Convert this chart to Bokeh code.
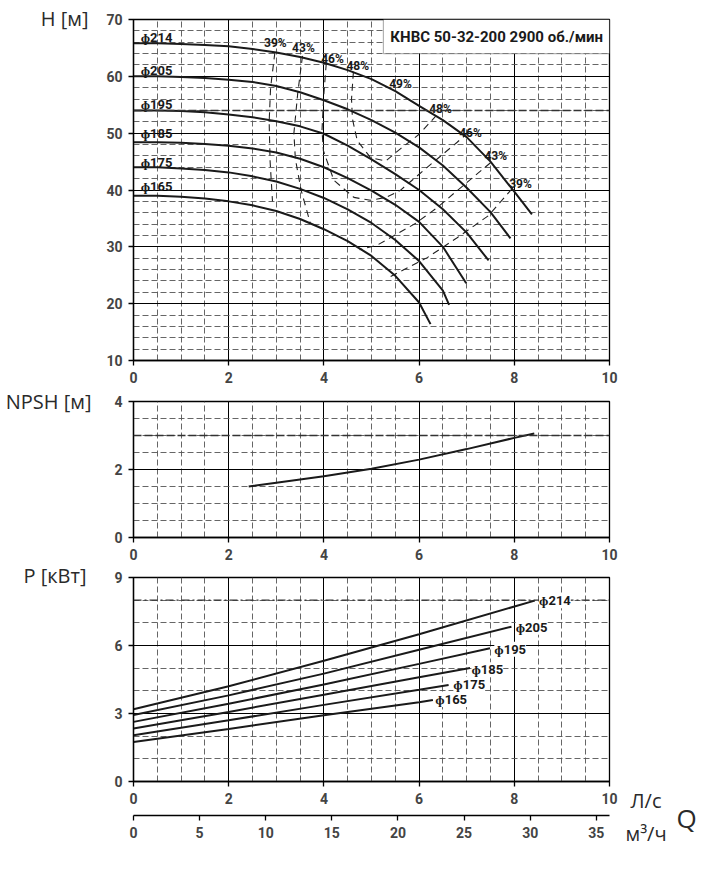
from bokeh.plotting import figure
from bokeh.layouts import column, row
from bokeh.models import (Range1d, LinearAxis, SingleIntervalTicker, Label,
                          BoxAnnotation, Span)
from bokeh.core.properties import value
from bokeh.embed import file_html
from bokeh.resources import INLINE

NUM_FONT = "Roboto"
UNIT_FONT = "Open Sans"

# ---- H-Q curves (Q in l/s, H in m) ----
diam_labels = ["ɸ214", "ɸ205", "ɸ195", "ɸ185", "ɸ175", "ɸ165"]
q_214 = [0, 0.5, 1, 1.5, 2, 2.5, 3, 3.5, 4, 4.5, 5, 5.5, 6, 6.5, 7, 7.5, 8, 8.37]
h_214 = [65.8, 65.8, 65.7, 65.5, 65.3, 64.8, 64.2, 63.4, 62.4, 61.1, 59.5, 57.4, 54.8, 52.3, 49.3, 45.0, 39.7, 35.7]
q_205 = [0, 0.5, 1, 1.5, 2, 2.5, 3, 3.5, 4, 4.5, 5, 5.5, 6, 6.5, 7, 7.5, 7.92]
h_205 = [60.0, 60.0, 59.9, 59.7, 59.4, 59.0, 58.3, 57.2, 55.8, 54.2, 52.3, 50.1, 47.5, 44.3, 40.4, 36.1, 31.5]
q_195 = [0, 0.5, 1, 1.5, 2, 2.5, 3, 3.5, 4, 4.5, 5, 5.5, 6, 6.5, 7, 7.46]
h_195 = [54.0, 54.0, 53.9, 53.7, 53.3, 52.8, 52.1, 51.2, 49.9, 47.8, 45.4, 42.8, 40.0, 36.6, 32.5, 27.6]
q_185 = [0, 0.5, 1, 1.5, 2, 2.5, 3, 3.5, 4, 4.5, 5, 5.5, 6, 6.5, 6.99]
h_185 = [48.4, 48.4, 48.3, 48.1, 47.8, 47.3, 46.6, 45.5, 44.0, 42.1, 39.9, 37.4, 34.4, 30.0, 23.6]
q_175 = [0, 0.5, 1, 1.5, 2, 2.5, 3, 3.5, 4, 4.5, 5, 5.5, 6, 6.5, 6.63]
h_175 = [44.0, 44.0, 43.8, 43.5, 43.1, 42.4, 41.5, 40.2, 38.6, 36.6, 34.2, 31.2, 27.5, 22.3, 19.8]
q_165 = [0, 0.5, 1, 1.5, 2, 2.5, 3, 3.5, 4, 4.5, 5, 5.5, 6, 6.24]
h_165 = [39.0, 39.0, 38.8, 38.5, 38.0, 37.3, 36.3, 34.9, 33.1, 31.0, 28.4, 24.9, 20.2, 16.4]
diam_label_h = [66.8, 61.1, 55.0, 49.9, 44.8, 40.7]

# ---- efficiency iso-lines ----
eff_39l_q = [2.97, 2.88, 2.85, 2.87, 2.92]
eff_39l_h = [64.2, 58.0, 52.0, 45.0, 38.0]
eff_43l_q = [3.55, 3.45, 3.37, 3.40, 3.52, 3.72]
eff_43l_h = [63.6, 57.0, 50.0, 45.5, 40.0, 34.0]
eff_46_q = [4.05, 4.0, 3.96, 3.99, 4.21, 4.63, 4.98, 5.3, 5.6, 6.2, 6.8, 6.95]
eff_46_h = [62.3, 57.0, 50.5, 46.9, 41.7, 38.7, 38.2, 38.7, 39.9, 44.2, 48.4, 49.5]
eff_48_q = [4.62, 4.58, 4.60, 4.70, 4.98, 5.3, 5.6, 6.0, 6.35]
eff_48_h = [60.8, 56.0, 52.5, 48.7, 45.7, 45.1, 47.2, 49.8, 53.0]
eff_43r_q = [7.5, 6.73, 6.38, 5.92, 5.12, 4.75]
eff_43r_h = [44.8, 39.4, 36.9, 34.1, 30.3, 29.5]
eff_39r_q = [7.95, 7.46, 6.8, 6.17, 5.36]
eff_39r_h = [40.2, 35.5, 31.6, 28.1, 24.6]

eff_text = ["39%", "43%", "46%", "48%", "49%", "48%", "46%", "43%", "39%"]
eff_text_q = [2.98, 3.57, 4.18, 4.71, 5.61, 6.45, 7.08, 7.61, 8.13]
eff_text_h = [65.8, 64.9, 63.1, 61.9, 58.7, 54.3, 50.1, 45.9, 41.1]

# ---- NPSH ----
npsh_q = [2.42, 3, 4, 5, 6, 7, 8, 8.42]
npsh_m = [1.50, 1.61, 1.80, 2.02, 2.29, 2.60, 2.93, 3.06]

# ---- power (kW) ----
pq_214 = [0, 2, 4, 6, 8.43]
p_214 = [3.19, 4.20, 5.33, 6.50, 7.98]
pq_205 = [0, 2, 4, 6, 7.94]
p_205 = [2.93, 3.80, 4.76, 5.81, 6.83]
pq_195 = [0, 2, 4, 6, 7.49]
p_195 = [2.63, 3.43, 4.28, 5.19, 5.88]
pq_185 = [0, 2, 4, 6, 7.07]
p_185 = [2.34, 3.07, 3.83, 4.60, 5.01]
pq_175 = [0, 2, 4, 6, 6.62]
p_175 = [2.04, 2.70, 3.38, 4.05, 4.26]
pq_165 = [0, 2, 4, 6, 6.29]
p_165 = [1.74, 2.32, 2.92, 3.50, 3.60]
p_label_q = [8.52, 8.03, 7.58, 7.10, 6.72, 6.34]
p_label_p = [7.97, 6.80, 5.84, 4.93, 4.28, 3.62]

title_text = "КНВС 50-32-200 2900 об./мин"
left_titles = ["H [м]", "NPSH [м]", "P [кВт]"]
q_units = ["Л/с", "м³/ч"]

# layout (px)
SIDE_L = 98
SIDE_R = 97
BORDER_L = 35
BORDER_R = 12
FRAME_W = 476
W = BORDER_L + FRAME_W + BORDER_R
H1, H2, H3 = 390, 177, 284
TOTAL_H = H1 + H2 + H3


def style_axis(ax):
    ax.axis_line_width = 1.3
    ax.major_tick_line_width = 1.3
    ax.major_tick_out = 5
    ax.major_tick_in = 0
    ax.minor_tick_line_color = None
    ax.major_label_text_font = NUM_FONT
    ax.major_label_text_font_style = "bold"
    ax.major_label_text_font_size = "14px"
    ax.major_label_standoff = 6


def make_fig(height, y0, y1, border_top, border_bottom, y_step, y_minor):
    p = figure(width=W, height=height, x_range=Range1d(0, 10),
               y_range=Range1d(y0, y1), output_backend="svg",
               toolbar_location=None, min_border_left=BORDER_L,
               min_border_right=BORDER_R, min_border_top=border_top,
               min_border_bottom=border_bottom)
    p.background_fill_color = "white"
    p.border_fill_color = "white"
    p.outline_line_color = "black"
    p.outline_line_width = 1.3
    xt = SingleIntervalTicker(interval=2, num_minor_ticks=4)
    yt = SingleIntervalTicker(interval=y_step, num_minor_ticks=y_minor)
    p.xaxis.ticker = xt
    p.yaxis.ticker = yt
    p.xgrid.ticker = xt
    p.ygrid.ticker = yt
    for g in (p.xgrid, p.ygrid):
        g.grid_line_color = "black"
        g.grid_line_width = 1
        g.minor_grid_line_color = "#555555"
        g.minor_grid_line_width = 0.9
        g.minor_grid_line_dash = "6 3"
    for ax in (p.xaxis, p.yaxis):
        style_axis(ax)
    return p


def side_panel(width):
    # plain canvas in pixels (y down) for texts that sit outside the frames
    s = figure(width=width, height=TOTAL_H, x_range=Range1d(0, width),
               y_range=Range1d(TOTAL_H, 0), output_backend="svg",
               toolbar_location=None, x_axis_type=None, y_axis_type=None,
               min_border=0)
    s.outline_line_color = None
    s.grid.visible = False
    s.background_fill_color = "white"
    s.border_fill_color = "white"
    return s


# ---------------- H-Q ----------------
p1 = make_fig(H1, 10, 70, 19, 30, 10, 5)
p1.add_layout(Span(location=54, dimension="width", line_color="#333333",
                   line_width=1.4, line_dash="8 3"))
for q, h in [(eff_39l_q, eff_39l_h), (eff_43l_q, eff_43l_h), (eff_46_q, eff_46_h),
             (eff_48_q, eff_48_h), (eff_43r_q, eff_43r_h), (eff_39r_q, eff_39r_h)]:
    p1.line(q, h, line_color="#222222", line_width=1.1, line_dash="7 5")
for q, h in [(q_214, h_214), (q_205, h_205), (q_195, h_195),
             (q_185, h_185), (q_175, h_175), (q_165, h_165)]:
    p1.line(q, h, line_color="#1a1a1a", line_width=2)
p1.text([0.15] * 6, diam_label_h, text=diam_labels, text_font=value(NUM_FONT),
        text_font_style="bold", text_font_size="13px", text_baseline="middle",
        text_color="#1a1a1a")
p1.text(eff_text_q, eff_text_h, text=eff_text, text_font=value(NUM_FONT),
        text_font_style="bold", text_font_size="12px", text_align="center",
        text_baseline="middle", text_color="#1a1a1a")
p1.add_layout(BoxAnnotation(left=5.25, right=10, bottom=64, top=70,
                            fill_color="white", fill_alpha=1,
                            line_color="black", line_width=1.2))
p1.add_layout(Label(x=7.63, y=67, text=title_text, text_font=NUM_FONT,
                    text_font_style="bold", text_font_size="15px",
                    text_align="center", text_baseline="middle",
                    text_color="#1a1a1a"))

# ---------------- NPSH ----------------
p2 = make_fig(H2, 0, 4, 11, 30, 2, 4)
p2.add_layout(Span(location=3, dimension="width", line_color="#333333",
                   line_width=1.4, line_dash="8 3"))
p2.line(npsh_q, npsh_m, line_color="#1a1a1a", line_width=2)

# ---------------- Power ----------------
p3 = make_fig(H3, 0, 9, 10, 70, 3, 3)
p3.add_layout(Span(location=8, dimension="width", line_color="#333333",
                   line_width=1.4, line_dash="8 3 2 3"))
for q, pw in [(pq_214, p_214), (pq_205, p_205), (pq_195, p_195),
              (pq_185, p_185), (pq_175, p_175), (pq_165, p_165)]:
    p3.line(q, pw, line_color="#1a1a1a", line_width=2)
for i in range(6):
    p3.add_layout(Label(x=p_label_q[i], y=p_label_p[i], text=diam_labels[i],
                        text_font=NUM_FONT, text_font_style="bold",
                        text_font_size="13px", text_baseline="middle",
                        text_color="#1a1a1a", background_fill_color="white"))
p3.xaxis.axis_label = " "
p3.xaxis.axis_label_text_font_size = "6px"
p3.xaxis.axis_label_standoff = 0

p3.extra_x_ranges = {"m3": Range1d(0, 36)}
ax2 = LinearAxis(x_range_name="m3",
                 ticker=SingleIntervalTicker(interval=5, num_minor_ticks=0))
style_axis(ax2)
p3.add_layout(ax2, "below")

# ---------------- side texts ----------------
left = side_panel(SIDE_L)
left.text([88, 91, 86], [18, 401, 575], text=left_titles,
          text_font=value(UNIT_FONT), text_font_size="20px",
          text_align="right", text_baseline="middle", text_color="#2a2a2a")

right = side_panel(SIDE_R)
right.text([9, 4], [800, 833], text=q_units, text_font=value(UNIT_FONT),
           text_font_size="20px", text_baseline="middle", text_color="#2a2a2a")
right.text([55], [817], text=["Q"], text_font=value(UNIT_FONT),
           text_font_size="26px", text_baseline="middle", text_color="#2a2a2a")

layout = row(left, column(p1, p2, p3), right)
open("out.html", "w").write(file_html(layout, INLINE))
